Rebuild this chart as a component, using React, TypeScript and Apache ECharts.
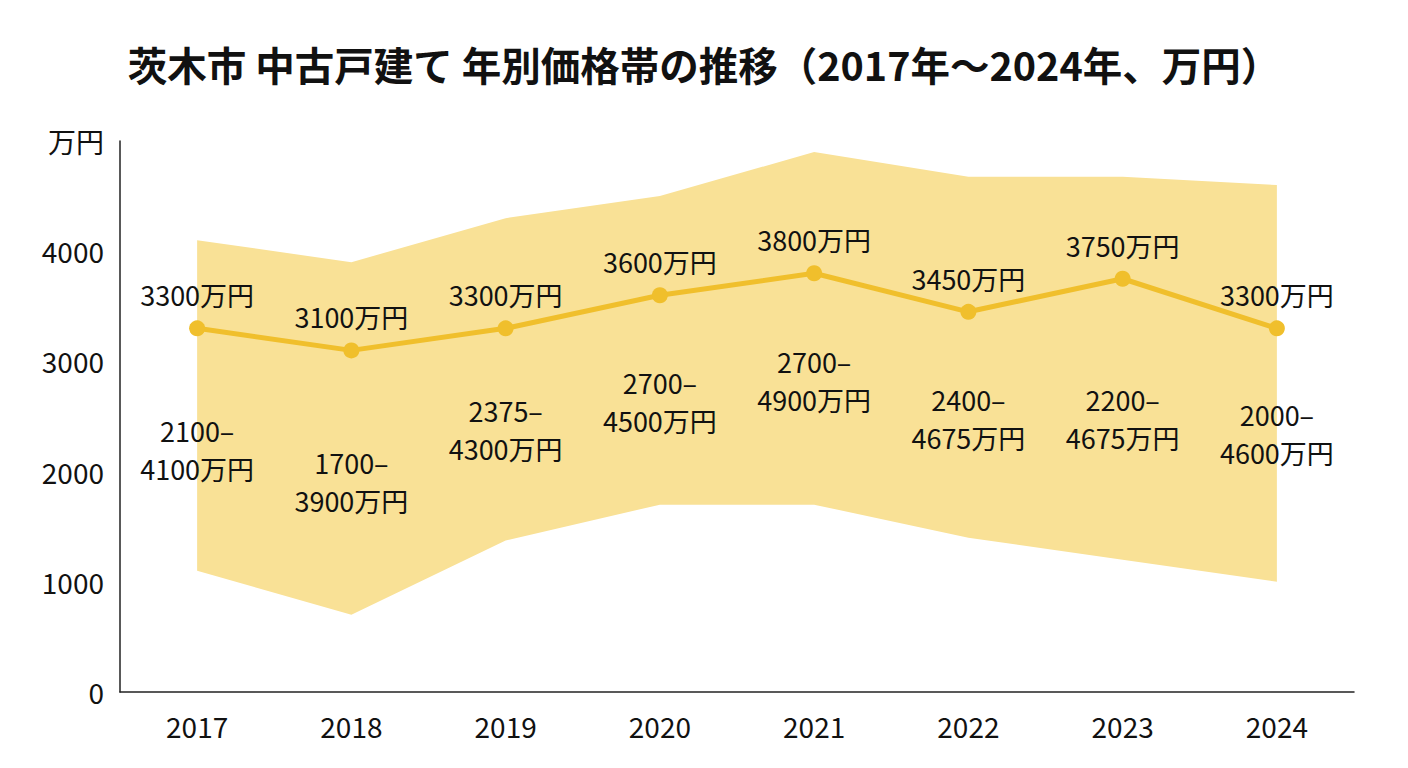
import React, { useEffect, useRef } from "react";
import * as echarts from "echarts";

// ---- data ----
const years = ["2017", "2018", "2019", "2020", "2021", "2022", "2023", "2024"];
// median price (万円)
const medianPrice = [3300, 3100, 3300, 3600, 3800, 3450, 3750, 3300];
// labelled price range (万円)
const rangeLow = [2100, 1700, 2375, 2700, 2700, 2400, 2200, 2000];
const rangeHigh = [4100, 3900, 4300, 4500, 4900, 4675, 4675, 4600];
// band as drawn in the picture (lower edge, upper edge)
const bandBottom = [1100, 700, 1375, 1700, 1700, 1400, 1200, 1000];
const bandTop = [4100, 3900, 4300, 4500, 4900, 4675, 4675, 4600];
// level (万円) at which each range label sits in the picture
const rangeLabelLevel = [2200, 1910, 2380, 2640, 2830, 2480, 2480, 2350];
const yTicks = { min: 0, max: 5000, step: 1000 };

const TITLE = "茨木市 中古戸建て 年別価格帯の推移（2017年〜2024年、万円）";
const UNIT = "万円";

const FONT = '"Noto Sans CJK JP", "Noto Sans", sans-serif';
const BAND_COLOR = "#F9E196";
const LINE_COLOR = "#F0BF2C";
const TEXT_COLOR = "#111111";
const AXIS_COLOR = "#222222";

export default function App() {
  const ref = useRef<HTMLDivElement>(null);

  useEffect(() => {
    if (!ref.current) return;
    const chart = echarts.init(ref.current, null, { renderer: "svg" });

    const bandSpan = bandTop.map((t, i) => t - bandBottom[i]);

    chart.setOption({
      animation: false,
      backgroundColor: "#ffffff",
      textStyle: { fontFamily: FONT },
      title: {
        text: TITLE,
        left: "center",
        top: 39,
        textStyle: {
          fontFamily: FONT,
          fontSize: 39.5,
          fontWeight: "bold",
          color: TEXT_COLOR,
        },
      },
      grid: { left: 120, right: 54, top: 141, bottom: 76, containLabel: false },
      xAxis: {
        type: "category",
        data: years,
        boundaryGap: true,
        axisLine: { show: true, lineStyle: { color: AXIS_COLOR, width: 1.5 } },
        axisTick: { show: false },
        axisLabel: {
          fontFamily: FONT,
          fontSize: 28,
          color: TEXT_COLOR,
          margin: 20,
        },
        splitLine: { show: false },
      },
      yAxis: {
        type: "value",
        min: yTicks.min,
        max: yTicks.max,
        interval: yTicks.step,
        axisLine: { show: true, lineStyle: { color: AXIS_COLOR, width: 1.5 } },
        axisTick: { show: false },
        splitLine: { show: false },
        axisLabel: {
          fontFamily: FONT,
          fontSize: 28,
          color: TEXT_COLOR,
          margin: 16,
          formatter: (v: number) => (v === yTicks.max ? UNIT : String(v)),
        },
      },
      series: [
        {
          name: "bandBase",
          type: "line",
          stack: "band",
          data: bandBottom,
          symbol: "none",
          lineStyle: { opacity: 0 },
          silent: true,
          z: 1,
        },
        {
          name: "band",
          type: "line",
          stack: "band",
          data: bandSpan,
          symbol: "none",
          lineStyle: { opacity: 0 },
          areaStyle: { color: BAND_COLOR, opacity: 1 },
          silent: true,
          z: 1,
        },
        {
          name: "median",
          type: "line",
          data: medianPrice,
          symbol: "circle",
          symbolSize: 16,
          itemStyle: { color: LINE_COLOR },
          lineStyle: { color: LINE_COLOR, width: 5 },
          z: 3,
          label: {
            show: true,
            position: "top",
            distance: 12,
            fontFamily: FONT,
            fontSize: 27,
            color: TEXT_COLOR,
            formatter: (p: any) => `${p.value}${UNIT}`,
          },
        },
        {
          name: "range",
          type: "scatter",
          data: rangeLabelLevel,
          symbol: "circle",
          symbolSize: 1,
          itemStyle: { color: "rgba(0,0,0,0)", opacity: 1 },
          z: 4,
          silent: true,
          label: {
            show: true,
            position: "inside",
            fontFamily: FONT,
            fontSize: 27,
            lineHeight: 38,
            color: TEXT_COLOR,
            opacity: 1,
            align: "center",
            formatter: (p: any) =>
              `${rangeLow[p.dataIndex]}–\n${rangeHigh[p.dataIndex]}${UNIT}`,
          },
        },
      ],
    });

    return () => chart.dispose();
  }, []);

  return (
    <div
      ref={ref}
      style={{ position: "fixed", left: 0, top: 0, width: 1408, height: 768, background: "#fff" }}
    />
  );
}
